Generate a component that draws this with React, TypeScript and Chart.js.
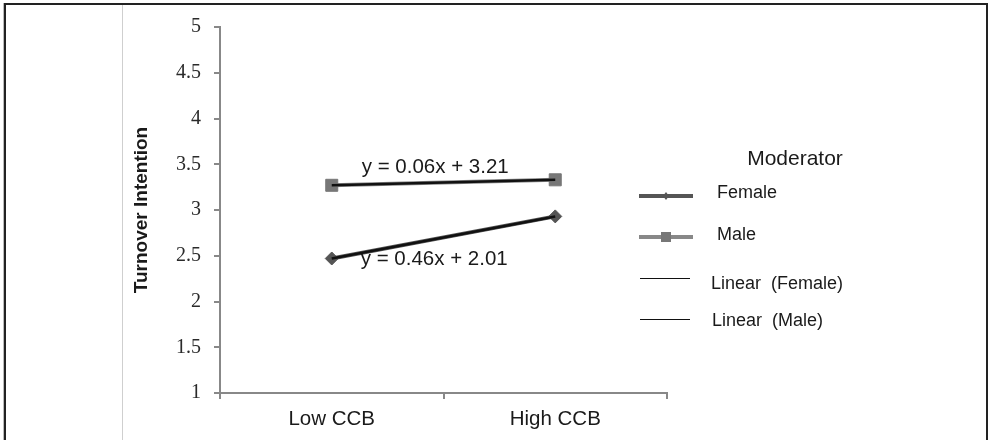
import React, { useEffect, useRef } from "react";
import { Chart, registerables } from "chart.js";

Chart.register(...registerables);

const categories = ["Low CCB", "High CCB"];
const femaleValues = [2.47, 2.93];
const maleValues = [3.27, 3.33];
const linearFemaleValues = [2.47, 2.93];
const linearMaleValues = [3.27, 3.33];
const yTicks = [1, 1.5, 2, 2.5, 3, 3.5, 4, 4.5, 5];
const maleEquation = "y = 0.06x + 3.21";
const femaleEquation = "y = 0.46x + 2.01";
const legendTitle = "Moderator";
const legendLabels = ["Female", "Male", "Linear  (Female)", "Linear  (Male)"];
const yTitle = "Turnover Intention";

const FONT = "'Liberation Sans', Arial, sans-serif";
const SERIF = "'Liberation Serif', 'Times New Roman', serif";

const framePlugin = {
  id: "frame",
  beforeDraw(chart: any) {
    const ctx = chart.ctx;
    ctx.save();
    ctx.fillStyle = "#fff";
    ctx.fillRect(0, 0, chart.width, chart.height);
    ctx.strokeStyle = "#bbb";
    ctx.lineWidth = 1;
    ctx.beginPath();
    ctx.moveTo(3.5, 3);
    ctx.lineTo(3.5, chart.height + 2);
    ctx.stroke();
    ctx.strokeStyle = "#222";
    ctx.lineWidth = 2;
    ctx.beginPath();
    ctx.moveTo(5, chart.height + 5);
    ctx.lineTo(5, 4);
    ctx.lineTo(987, 4);
    ctx.lineTo(987, chart.height + 5);
    ctx.stroke();
    ctx.strokeStyle = "#cfcfcf";
    ctx.lineWidth = 1;
    ctx.beginPath();
    ctx.moveTo(122.5, 5);
    ctx.lineTo(122.5, chart.height);
    ctx.stroke();
    ctx.restore();
  },
};

const annotPlugin = {
  id: "annot",
  afterDatasetsDraw(chart: any) {
    const ctx = chart.ctx;
    const xs = chart.scales.x;
    const ys = chart.scales.y;
    ctx.save();
    ctx.fillStyle = "#1a1a1a";
    ctx.font = `20.5px ${FONT}`;
    ctx.textAlign = "left";
    ctx.textBaseline = "middle";
    const x0 = xs.getPixelForValue(0);
    ctx.fillText(maleEquation, x0 + 30, ys.getPixelForValue(maleValues[0]) - 18);
    ctx.fillText(femaleEquation, x0 + 29, ys.getPixelForValue(femaleValues[0]) + 1);

    // legend
    ctx.font = `21px ${FONT}`;
    ctx.textAlign = "center";
    ctx.fillText(legendTitle, 795, 159);
    ctx.textAlign = "left";
    ctx.font = `18px ${FONT}`;
    // Female
    ctx.strokeStyle = "#555";
    ctx.lineWidth = 4;
    ctx.beginPath();
    ctx.moveTo(639, 196);
    ctx.lineTo(693, 196);
    ctx.stroke();
    ctx.fillStyle = "#555";
    ctx.beginPath();
    ctx.moveTo(666, 192);
    ctx.lineTo(669, 196);
    ctx.lineTo(666, 200);
    ctx.lineTo(663, 196);
    ctx.closePath();
    ctx.fill();
    ctx.fillStyle = "#1a1a1a";
    ctx.fillText(legendLabels[0], 717, 193);
    // Male
    ctx.strokeStyle = "#888";
    ctx.beginPath();
    ctx.moveTo(639, 237);
    ctx.lineTo(693, 237);
    ctx.stroke();
    ctx.fillStyle = "#777";
    ctx.fillRect(661, 232, 10, 10);
    ctx.fillStyle = "#1a1a1a";
    ctx.fillText(legendLabels[1], 717, 235);
    // Linear
    ctx.strokeStyle = "#111";
    ctx.lineWidth = 1;
    ctx.beginPath();
    ctx.moveTo(640, 278.5);
    ctx.lineTo(690, 278.5);
    ctx.moveTo(640, 319.5);
    ctx.lineTo(690, 319.5);
    ctx.stroke();
    ctx.fillText(legendLabels[2], 711, 284);
    ctx.fillText(legendLabels[3], 712, 321);
    ctx.restore();
  },
};

export default function App() {
  const ref = useRef<HTMLCanvasElement | null>(null);
  useEffect(() => {
    document.body.style.margin = "0";
    const canvas = ref.current;
    if (!canvas) return;
    const chart = new Chart(canvas, {
      type: "line",
      data: {
        labels: categories,
        datasets: [
          {
            label: legendLabels[2],
            data: linearFemaleValues,
            borderColor: "#111",
            borderWidth: 2.5,
            pointRadius: 0,
            order: 0,
          },
          {
            label: legendLabels[3],
            data: linearMaleValues,
            borderColor: "#111",
            borderWidth: 2.5,
            pointRadius: 0,
            order: 0,
          },
          {
            label: legendLabels[0],
            data: femaleValues,
            borderColor: "#555",
            borderWidth: 4,
            pointStyle: "rectRot",
            pointRadius: 6.5,
            pointBackgroundColor: "#555",
            pointBorderColor: "#555",
            pointBorderWidth: 1,
            order: 1,
          },
          {
            label: legendLabels[1],
            data: maleValues,
            borderColor: "#888",
            borderWidth: 4,
            pointStyle: "rect",
            pointRadius: 8.5,
            pointBackgroundColor: "#777",
            pointBorderColor: "#777",
            pointBorderWidth: 1,
            order: 1,
          },
        ],
      },
      options: {
        animation: false,
        responsive: true,
        maintainAspectRatio: false,
        layout: { padding: { left: 122, top: 27, right: 324, bottom: 0 } },
        plugins: { legend: { display: false }, tooltip: { enabled: false } },
        scales: {
          x: {
            type: "category",
            offset: true,
            afterFit: (s: any) => {
              s.height = 47;
            },
            grid: {
              offset: true,
              drawOnChartArea: false,
              drawTicks: true,
              tickLength: 6,
              color: "#888",
              lineWidth: 2,
            },
            border: { color: "#888", width: 2 },
            ticks: {
              color: "#1a1a1a",
              font: { family: FONT, size: 20.5 },
              padding: 8,
            },
          },
          y: {
            min: 1,
            max: 5,
            afterFit: (s: any) => {
              s.width = 98;
            },
            afterBuildTicks: (s: any) => {
              s.ticks = yTicks.map((v) => ({ value: v }));
            },
            grid: {
              drawOnChartArea: false,
              drawTicks: true,
              tickLength: 6,
              color: "#888",
              lineWidth: 2,
            },
            border: { color: "#888", width: 2 },
            ticks: {
              color: "#2a2a2a",
              font: { family: SERIF, size: 20 },
              padding: 13,
              callback: (v: any) => String(v),
            },
            title: {
              display: true,
              text: yTitle,
              color: "#1a1a1a",
              font: { family: FONT, size: 19, weight: "bold" },
              padding: { top: 8, bottom: 0 },
            },
          },
        },
      },
      plugins: [framePlugin, annotPlugin],
    });
    return () => chart.destroy();
  }, []);
  return (
    <div style={{ position: "fixed", left: 0, top: 0, width: 991, height: 440 }}>
      <canvas ref={ref} />
    </div>
  );
}
